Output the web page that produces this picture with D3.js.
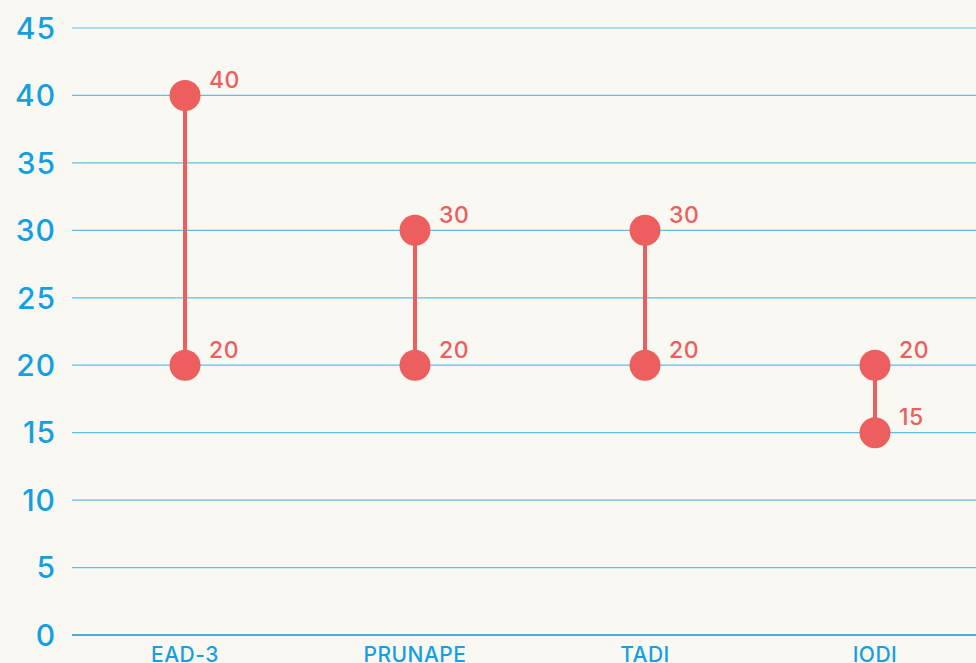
<!DOCTYPE html>
<html>
<head>
<meta charset="utf-8">
<script src="https://cdn.jsdelivr.net/npm/d3@7"></script>
<style>
  html, body { margin: 0; padding: 0; background: #faf8f3; overflow: hidden; }
  svg text { font-family: "Inter", "Open Sans", sans-serif; font-weight: 500; }
</style>
</head>
<body>
<svg id="chart" width="976" height="663"></svg>
<script>
// chart data
var categories = ['EAD-3', 'PRUNAPE', 'TADI', 'IODI'];
var lowValues = [20, 20, 20, 15];
var highValues = [40, 30, 30, 20];
var yTicks = [0, 5, 10, 15, 20, 25, 30, 35, 40, 45];

var blue = '#13a0e2';
var red = '#ec5f5e';

var svg = d3.select('#chart');

var x = d3.scaleBand().domain(categories).range([70, 990]);
var y = d3.scaleLinear().domain([0, 45]).range([635, 28]);

// grid lines + y labels
var yAxis = svg.append('g');
yTicks.forEach(function(t) {
  yAxis.append('line')
    .attr('x1', 72).attr('x2', 976)
    .attr('y1', y(t)).attr('y2', y(t))
    .attr('stroke', t == 0 ? '#1b8fd2' : '#5cbfe9')
    .attr('stroke-width', t == 0 ? 1.5 : 1.2);
  yAxis.append('text')
    .attr('x', 56).attr('y', y(t))
    .attr('dy', '0.36em')
    .attr('text-anchor', 'end')
    .attr('fill', blue)
    .style('font-size', '30px')
    .style('letter-spacing', '1px')
    .text(t);
});

// x labels (cut at the bottom edge, as in the original)
svg.append('g').selectAll('text')
  .data(categories).enter().append('text')
  .attr('x', function(d) { return x(d) + x.bandwidth() / 2; })
  .attr('y', 662)
  .attr('text-anchor', 'middle')
  .attr('fill', blue)
  .style('font-size', '21px')
  .style('letter-spacing', '0.5px')
  .text(function(d) { return d; });

// dumbbells
var rows = categories.map(function(c, i) { return { cat: c, lo: lowValues[i], hi: highValues[i] }; });
var g = svg.append('g');

g.selectAll('line.stem').data(rows).enter().append('line')
  .attr('class', 'stem')
  .attr('x1', function(d) { return x(d.cat) + x.bandwidth() / 2; })
  .attr('x2', function(d) { return x(d.cat) + x.bandwidth() / 2; })
  .attr('y1', function(d) { return y(d.lo); })
  .attr('y2', function(d) { return y(d.hi); })
  .attr('stroke', red)
  .attr('stroke-width', 4);

var points = [];
rows.forEach(function(d) {
  points.push({ cat: d.cat, v: d.lo });
  points.push({ cat: d.cat, v: d.hi });
});

g.selectAll('circle').data(points).enter().append('circle')
  .attr('cx', function(d) { return x(d.cat) + x.bandwidth() / 2; })
  .attr('cy', function(d) { return y(d.v); })
  .attr('r', 15.5)
  .attr('fill', red);

g.selectAll('text.val').data(points).enter().append('text')
  .attr('class', 'val')
  .attr('x', function(d) { return x(d.cat) + x.bandwidth() / 2 + 24; })
  .attr('y', function(d) { return y(d.v) - 16; })
  .attr('dy', '0.36em')
  .attr('fill', red)
  .style('font-size', '23px')
  .style('letter-spacing', '0.5px')
  .text(function(d) { return d.v; });
</script>
</body>
</html>
